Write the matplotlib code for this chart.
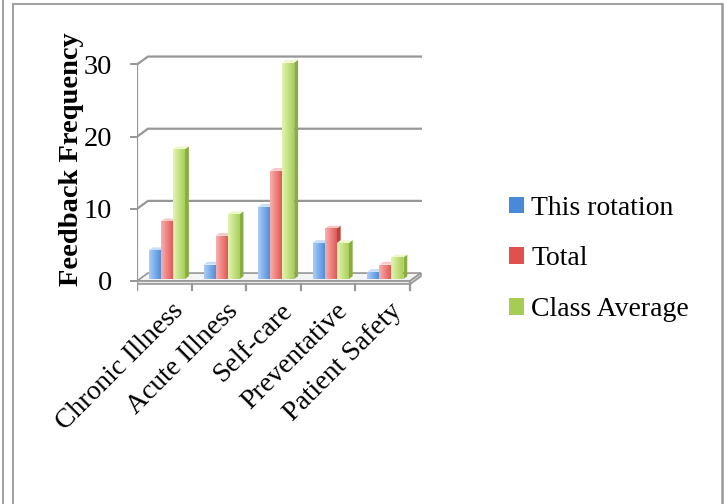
import numpy as np
import matplotlib
matplotlib.use('Agg')
import matplotlib.pyplot as plt
from matplotlib.patches import Polygon, Patch
from matplotlib.colors import LinearSegmentedColormap
from matplotlib.lines import Line2D

# chart data
categories = ['Chronic Illness', 'Acute Illness', 'Self-care', 'Preventative', 'Patient Safety']
this_rotation = [4, 2, 10, 5, 1]
total = [8, 6, 15, 7, 2]
class_average = [18, 9, 30, 5, 3]
series_names = ['This rotation', 'Total', 'Class Average']
yticks = [0, 10, 20, 30]

# (light, dark, side, top) per series
palette = [('#a9cdf7', '#4a89d8', '#3b72b8', '#c6defa'),
           ('#f8b0ae', '#e0514e', '#c0403d', '#f9c9c8'),
           ('#e2f4b0', '#a6cc55', '#89ad40', '#eef8cf')]

plt.rcParams['font.family'] = ['Liberation Serif', 'DejaVu Serif']

W, H = 727, 504
fig = plt.figure(figsize=(W / 100, H / 100), dpi=100)

# pixel geometry of the plot area
px_x0, px_unit = 137, 54.6      # x=0 at 137px, one category = 54.6px
px_y0, px_val = 281, 7.217      # y=0 at 281px, 1 unit = 7.217px
xlim = (0, 5.35)
ylim = (-2, 32)
left = px_x0 / W
width = (xlim[1] - xlim[0]) * px_unit / W
top_px = px_y0 - ylim[1] * px_val
bot_px = px_y0 - ylim[0] * px_val
ax = fig.add_axes([left, 1 - bot_px / H, width, (bot_px - top_px) / H])

dx, dy = 0.2, 1.1          # depth offset of the back wall
grid_c = '#979797'
n = len(categories)


def grad_poly(verts, c0, c1, z):
    poly = Polygon(verts, closed=True, facecolor='none', edgecolor='none', zorder=z)
    ax.add_patch(poly)
    xs = [v[0] for v in verts]
    ys = [v[1] for v in verts]
    cmap = LinearSegmentedColormap.from_list('g', [c0, c1])
    g = np.linspace(0, 1, 64).reshape(1, -1)
    im = ax.imshow(g, extent=(min(xs), max(xs), min(ys), max(ys)), cmap=cmap,
                   aspect='auto', zorder=z, interpolation='bilinear', origin='lower')
    im.set_clip_path(poly)


# back wall gridlines
for v in yticks:
    if v == 0:
        continue
    ax.plot([0, dx, n + dx], [v, v + dy, v + dy], color=grid_c, lw=1.6, zorder=1,
            solid_joinstyle='miter')

# floor slab
th = 0.45
ax.add_patch(Polygon([(0, 0), (n, 0), (n + dx, dy), (dx, dy)], closed=True,
                     facecolor='#f4f4f4', edgecolor=grid_c, lw=1.2, zorder=2))
ax.add_patch(Polygon([(0, -th), (n, -th), (n, 0), (0, 0)], closed=True,
                     facecolor='#e6e6e6', edgecolor=grid_c, lw=1.2, zorder=2))
ax.add_patch(Polygon([(n, -th), (n + dx, dy - th), (n + dx, dy), (n, 0)], closed=True,
                     facecolor='#d8d8d8', edgecolor=grid_c, lw=1.2, zorder=2))

# front value axis and category ticks
ax.plot([0, 0], [-1.3, 30], color=grid_c, lw=1.6, zorder=3)
for i in range(n + 1):
    ax.plot([i, i], [-th, -1.3], color=grid_c, lw=1.6, zorder=3)

# bars
bw = 0.22
f0, f1 = 0.25, 0.6   # front/back depth fraction of the bars
series = [this_rotation, total, class_average]
z = 10
for i in range(n):
    for s, vals in enumerate(series):
        v = vals[i]
        light, dark, side, topc = palette[s]
        x = i + 0.17 + s * bw + f0 * dx
        y = f0 * dy
        ddx = (f1 - f0) * dx
        ddy = (f1 - f0) * dy
        # side face
        ax.add_patch(Polygon([(x + bw, y), (x + bw + ddx, y + ddy), (x + bw + ddx, y + v + ddy),
                              (x + bw, y + v)], closed=True, facecolor=side,
                             edgecolor='none', zorder=z))
        # top face
        ax.add_patch(Polygon([(x, y + v), (x + bw, y + v), (x + bw + ddx, y + v + ddy),
                              (x + ddx, y + v + ddy)], closed=True, facecolor=topc,
                             edgecolor='none', zorder=z + 0.1))
        # front face with gradient
        grad_poly([(x, y), (x + bw, y), (x + bw, y + v), (x, y + v)], light, dark, z + 0.2)
        z += 1

ax.set_xlim(*xlim)
ax.set_ylim(*ylim)
for sp in ax.spines.values():
    sp.set_visible(False)
ax.set_xticks([])
ax.set_yticks(yticks)
ax.set_yticklabels([str(t) for t in yticks])
ax.tick_params(axis='y', length=5, width=1.4, color=grid_c, pad=13, labelsize=20.5)
ax.patch.set_alpha(0)

# category labels
for i, c in enumerate(categories):
    ax.text(i + 0.62, -2.4, c, rotation=45, ha='right', va='top',
            rotation_mode='anchor', fontsize=20)

# y label
fig.text(72 / W, 1 - 159 / H, 'Feedback Frequency', rotation=90, ha='center',
         va='center', fontsize=20.5, fontweight='bold')

# legend
handles = [Patch(facecolor=p[1], edgecolor='none') for p in palette]
fig.legend(handles, series_names, loc='center left',
           bbox_to_anchor=(509 / W, 1 - 259 / H), frameon=False, fontsize=20,
           handlelength=0.55, handleheight=0.55, handletextpad=0.25,
           labelspacing=0.92, borderaxespad=0, borderpad=0)

# page frame
fc = '#a3a3a3'
fig.add_artist(Line2D([2.5 / W, 2.5 / W], [0, 1], color=fc, lw=1.5))
fig.add_artist(Line2D([12.5 / W, 12.5 / W], [0, 1 - 3.5 / H], color=fc, lw=1.5))
fig.add_artist(Line2D([12.5 / W, 722 / W], [1 - 3.5 / H, 1 - 3.5 / H], color=fc, lw=1.5))
fig.add_artist(Line2D([721.5 / W, 721.5 / W], [0, 1 - 3.5 / H], color='#999999', lw=1.8))

fig.savefig('out.png', dpi=100)
